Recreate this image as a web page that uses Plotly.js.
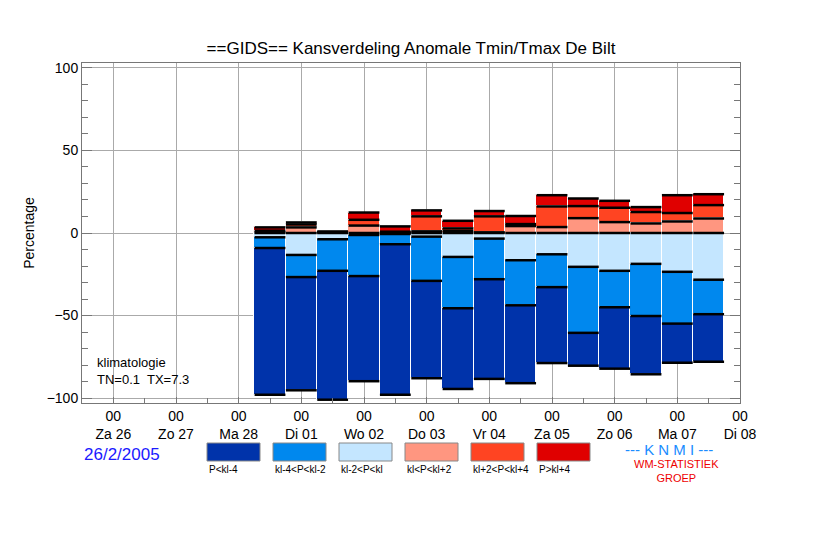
<!DOCTYPE html>
<html>
<head>
<meta charset="utf-8">
<script src="https://cdn.plot.ly/plotly-3.0.1.min.js"></script>
<style>body{margin:0;background:#fff}#myDiv{width:822px;height:538px}</style>
</head>
<body>
<div id="myDiv"></div>
<script>
// bar times in days after Za 26 00h, one bar every 12 hours
var times = [2.5,3,3.5,4,4.5,5,5.5,6,6.5,7,7.5,8,8.5,9,9.5];
var pDark   = [-88.9,-68.6,-78.1,-63.7,-91.2,-59.0,-48.9,-60.4,-47.2,-46.0,-19.9,-37.2,-35.3,-23.7,-28.8];
var pMid    = [-6.5,-13.4,-19.1,-24.9,-6.2,-26.8,-31.1,-24.6,-27.3,-19.9,-40.0,-22.1,-31.6,-31.4,-20.9];
var pLight  = [-2.6,-13.3,-3.8,-1.2,-0.6,-2.2,-14.5,-3.4,-16.5,-12.9,-20.5,-22.9,-18.7,-23.5,-28.3];
var pSalmon = [0.4,3.4,0.3,4.5,0.3,1.0,1.2,0.4,4.2,3.6,9.0,6.6,5.8,7.0,8.8];
var pOrange = [1.0,1.8,0.3,3.5,0.5,9.1,1.6,9.7,1.2,12.5,7.3,8.7,6.9,5.1,8.1];
var pRed    = [2.0,1.2,0.3,4.4,3.2,3.6,4.6,3.2,4.9,6.8,4.6,4.2,3.0,10.8,6.6];
var dayLabels = ["Za 26","Zo 27","Ma 28","Di 01","Wo 02","Do 03","Vr 04","Za 05","Zo 06","Ma 07","Di 08"];
var classNames = ["P<kl-4","kl-4<P<kl-2","kl-2<P<kl","kl<P<kl+2","kl+2<P<kl+4","P>kl+4"];
var colors = ["#0033aa","#0088ee","#c4e6ff","#ff9680","#ff4422","#e00000"];

var series = [pDark,pMid,pLight,pSalmon,pOrange,pRed];
// draw order: light, mid, dark below zero; salmon, orange, red above
var order = [2,1,0,3,4,5];
var data = [];
for (var k in order){
	var i = order[k];
	data.push({
		x: times, y: series[i], type: 'bar', width: 0.5, name: classNames[i],
		marker: {color: colors[i], line: {color: '#ffffff', width: 1}},
		showlegend: false, hoverinfo: 'y'
	});
}
// black boundary lines at every class border
var bx = [], by = [];
for (var j = 0; j < times.length; j++){
	var neg = 0, pos = 0;
	bx.push(times[j]); by.push(0);
	[pLight,pMid,pDark].forEach(function(s){neg += s[j]; bx.push(times[j]); by.push(neg);});
	[pSalmon,pOrange,pRed].forEach(function(s){pos += s[j]; bx.push(times[j]); by.push(pos);});
}
data.push({
	x: bx, y: by, type: 'scatter', mode: 'markers', showlegend: false, hoverinfo: 'skip',
	marker: {symbol: 'line-ew', size: 22, line: {color: '#000000', width: 2.5}}
});

var tickvals = [], ticktext = [];
for (var d = 0; d < dayLabels.length; d++){
	tickvals.push(d);
	ticktext.push("00<br>" + dayLabels[d]);
}

var shapes = [], annotations = [];
var legX = [207,273,339,405,471,537];
for (var n = 0; n < 6; n++){
	shapes.push({type:'rect', xref:'paper', yref:'paper',
		x0:(legX[n]-82)/658, x1:(legX[n]+53-82)/658, y0:(538-461-135)/340, y1:(538-443-135)/340,
		fillcolor: colors[n], line:{color:'#888', width:1}});
	annotations.push({xref:'paper', yref:'paper', x:(legX[n]-82)/658, y:(538-462-135)/340,
		xanchor:'left', yanchor:'top', text: classNames[n].replace(/</g,'&lt;'), showarrow:false,
		font:{size:10, color:'#000'}});
}
annotations.push({xref:'paper', yref:'paper', x:0, y:(538-455-135)/340, xanchor:'left', yanchor:'middle',
	text:'26/2/2005', showarrow:false, font:{size:17, color:'#1a1aff'}});
annotations.push({xref:'paper', yref:'paper', x:(669-82)/658, y:(538-449-135)/340, xanchor:'center', yanchor:'middle',
	text:'--- K N M I ---', showarrow:false, font:{size:15, color:'#1a8cff'}});
annotations.push({xref:'paper', yref:'paper', x:(676-82)/658, y:(538-471-135)/340, xanchor:'center', yanchor:'middle',
	text:'WM-STATISTIEK<br>GROEP', showarrow:false, font:{size:11, color:'#ee0000'}});
annotations.push({xref:'paper', yref:'paper', x:0.02, y:0.04, xanchor:'left', yanchor:'bottom', align:'left',
	text:'klimatologie<br>TN=0.1  TX=7.3', showarrow:false, font:{size:13, color:'#000'}});

var layout = {
	title: {text: '==GIDS== Kansverdeling Anomale Tmin/Tmax De Bilt', font:{size:17, color:'#000'}, y: 0.91, yanchor:'middle'},
	font: {family: 'Liberation Sans, Arial, sans-serif', color: '#000'},
	width: 822, height: 538,
	margin: {l: 82, r: 82, t: 63, b: 135, pad: 0},
	barmode: 'relative', bargap: 0,
	plot_bgcolor: '#ffffff', paper_bgcolor: '#ffffff',
	xaxis: {range: [-0.5, 10], tickvals: tickvals, ticktext: ticktext, tickfont:{size:14},
		showgrid: true, gridcolor: '#aaaaaa', gridwidth: 1, zeroline: false,
		showline: true, mirror: true, linecolor: '#777', ticks: 'inside', ticklen: 6, tickcolor:'#777',
		minor: {dtick: 0.5, tick0: 0, ticks: 'inside', ticklen: 5, tickcolor:'#777', showgrid:false}},
	yaxis: {title: {text: 'Percentage', font:{size:14}, standoff: 8}, range: [-103, 103],
		tickvals: [-100,-50,0,50,100], tickfont:{size:14},
		showgrid: true, gridcolor: '#aaaaaa', zeroline: false,
		showline: true, mirror: 'allticks', linecolor: '#777', ticks: 'inside', ticklen: 10, tickcolor:'#777',
		minor: {dtick: 10, ticks: 'inside', ticklen: 6, tickcolor:'#777', showgrid:false}},
	shapes: shapes,
	annotations: annotations
};
Plotly.newPlot('myDiv', data, layout, {displayModeBar: false});
</script>
</body>
</html>
